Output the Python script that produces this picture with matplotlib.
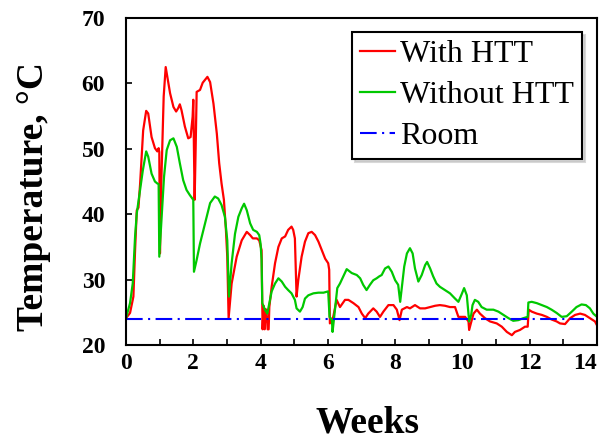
import matplotlib
matplotlib.use("Agg")
from matplotlib import pyplot as plt
from matplotlib.ticker import MultipleLocator

# temperature log, weeks vs deg C
sati_sa = [0, 0.12, 0.22, 0.27, 0.32, 0.37, 0.42, 0.51, 0.60, 0.66, 0.76, 0.86, 0.93, 0.97, 0.99,
           1.01, 1.05, 1.12, 1.18, 1.26, 1.31, 1.41, 1.49, 1.55, 1.60, 1.65, 1.75, 1.85, 1.92, 1.98,
           2.00, 2.02, 2.04, 2.07, 2.10, 2.20, 2.28, 2.42, 2.50, 2.60, 2.70, 2.77, 2.84, 2.91, 2.97,
           3.01, 3.05, 3.14, 3.29, 3.44, 3.59, 3.69, 3.77, 3.89, 3.96, 4.03, 4.06, 4.09, 4.12, 4.15,
           4.18, 4.21, 4.24, 4.26, 4.33, 4.43, 4.53, 4.63, 4.73, 4.82, 4.92, 4.97, 5.02, 5.07, 5.12,
           5.22, 5.32, 5.42, 5.52, 5.62, 5.72, 5.82, 5.92, 6.01, 6.04, 6.06, 6.16, 6.26, 6.36, 6.51,
           6.61, 6.76, 6.91, 7.01, 7.11, 7.20, 7.35, 7.45, 7.55, 7.65, 7.80, 7.95, 8.05, 8.13, 8.20,
           8.35, 8.44, 8.59, 8.74, 8.89, 9.04, 9.19, 9.33, 9.48, 9.63, 9.78, 9.88, 10.08, 10.18, 10.20,
           10.25, 10.33, 10.43, 10.52, 10.67, 10.82, 11.02, 11.17, 11.32, 11.47, 11.56, 11.71, 11.86, 11.94, 11.97,
           12.06, 12.21, 12.36, 12.51, 12.65, 12.80, 12.90, 13.05, 13.20, 13.35, 13.50, 13.64, 13.79, 13.94, 14.00]
temp_sa = [24.1, 24.9, 27.4, 34.5, 40.6, 41.0, 44.7, 52.8, 55.8, 55.4, 51.8, 50.1, 49.6, 50.1, 49.5,
           34.0, 45.0, 58.0, 62.5, 60.0, 58.5, 56.4, 55.7, 56.2, 56.8, 55.9, 53.4, 51.6, 51.8, 54.9,
           57.5, 50.0, 42.2, 50.0, 58.7, 59.0, 60.1, 61.0, 60.2, 56.9, 52.3, 47.8, 44.7, 42.2, 37.6,
           33.5, 24.1, 29.4, 33.5, 36.0, 37.3, 36.8, 36.3, 36.3, 36.0, 34.5, 22.4, 26.0, 22.4, 25.5,
           24.8, 22.4, 22.4, 25.8, 28.9, 32.5, 35.0, 36.3, 36.6, 37.6, 38.1, 37.6, 36.3, 27.4, 29.9,
           33.5, 35.8, 37.1, 37.3, 36.8, 35.8, 34.5, 33.2, 32.5, 31.5, 23.3, 24.3, 26.9, 25.8, 26.9,
           26.9, 26.4, 25.8, 24.8, 24.1, 24.8, 25.6, 25.1, 24.3, 25.1, 26.1, 26.1, 25.4, 23.8, 25.4,
           25.8, 25.6, 26.1, 25.6, 25.6, 25.8, 26.0, 26.1, 26.0, 25.8, 25.8, 24.3, 24.3, 23.6, 22.3,
           23.3, 24.8, 25.4, 24.8, 24.1, 23.6, 23.3, 22.8, 22.0, 21.5, 22.0, 22.3, 22.8, 22.8, 25.4,
           25.1, 24.8, 24.6, 24.3, 23.9, 23.6, 23.3, 23.2, 24.1, 24.6, 24.8, 24.6, 24.1, 23.6, 23.0]

sati_bez = [0, 0.12, 0.20, 0.27, 0.32, 0.42, 0.50, 0.60, 0.66, 0.76, 0.86, 0.93, 0.97, 0.99, 1.06,
            1.13, 1.21, 1.31, 1.41, 1.51, 1.60, 1.70, 1.80, 1.90, 2.00, 2.02, 2.10, 2.20, 2.35, 2.50,
            2.64, 2.74, 2.84, 2.94, 3.01, 3.06, 3.14, 3.24, 3.34, 3.44, 3.51, 3.59, 3.69, 3.78, 3.89,
            3.96, 4.00, 4.03, 4.05, 4.13, 4.20, 4.26, 4.33, 4.43, 4.53, 4.63, 4.73, 4.82, 4.92, 5.02,
            5.07, 5.17, 5.25, 5.32, 5.42, 5.57, 5.72, 5.87, 6.01, 6.05, 6.12, 6.14, 6.22, 6.28, 6.36,
            6.46, 6.56, 6.71, 6.86, 6.96, 7.05, 7.15, 7.25, 7.35, 7.45, 7.53, 7.60, 7.70, 7.80, 7.90,
            8.00, 8.09, 8.15, 8.20, 8.27, 8.35, 8.44, 8.52, 8.59, 8.69, 8.79, 8.89, 8.95, 9.04, 9.13,
            9.23, 9.33, 9.48, 9.63, 9.78, 9.88, 9.98, 10.05, 10.13, 10.20, 10.26, 10.30, 10.37, 10.47, 10.57,
            10.72, 10.92, 11.07, 11.22, 11.37, 11.51, 11.66, 11.81, 11.94, 11.96, 12.06, 12.21, 12.36, 12.51, 12.65,
            12.80, 12.95, 13.10, 13.25, 13.39, 13.54, 13.67, 13.79, 13.89, 14.00]
temp_bez = [24.1, 26.4, 29.4, 36.6, 40.1, 43.7, 46.7, 49.6, 48.8, 46.2, 45.0, 44.7, 44.6, 33.5, 39.6,
            45.7, 49.8, 51.3, 51.6, 50.3, 47.8, 45.2, 43.7, 42.9, 42.2, 31.2, 33.0, 35.5, 38.6, 41.7,
            42.7, 42.4, 41.4, 39.6, 36.0, 27.4, 32.5, 37.0, 39.6, 40.9, 41.6, 40.6, 38.6, 37.6, 37.3,
            36.8, 35.5, 33.0, 26.4, 25.4, 24.8, 26.4, 28.2, 29.4, 30.2, 29.7, 28.9, 28.4, 27.9, 26.9,
            25.6, 25.1, 25.8, 27.1, 27.6, 27.9, 28.0, 28.0, 28.2, 24.3, 23.8, 22.0, 25.8, 28.7, 29.4,
            30.5, 31.6, 31.0, 30.7, 30.2, 29.2, 28.4, 29.2, 29.9, 30.2, 30.5, 30.7, 31.7, 32.0, 31.2,
            29.9, 29.2, 26.6, 28.9, 32.0, 34.0, 34.8, 34.0, 31.7, 29.7, 30.7, 32.2, 32.7, 31.7, 30.5,
            29.4, 28.9, 28.4, 27.9, 27.1, 26.6, 27.8, 28.7, 27.6, 23.6, 24.6, 26.1, 26.9, 26.6, 25.8,
            25.4, 25.4, 25.1, 24.6, 24.1, 23.7, 23.8, 24.1, 24.3, 26.5, 26.6, 26.4, 26.1, 25.8, 25.4,
            24.9, 24.3, 24.4, 25.1, 25.8, 26.2, 26.1, 25.6, 24.8, 24.3]

sati_soba = [0, 13.6]
temp_soba = [24, 24]

nedelje = [0, 2, 4, 6, 8, 10, 12, 14]
temperature = [20, 30, 40, 50, 60, 70]

plt.rcParams["font.family"] = "Liberation Serif"
plt.rcParams["font.weight"] = "bold"

figura = plt.figure(figsize=(6.02, 4.41), dpi=100)
ax = figura.add_axes([0.2093, 0.2177, 0.7824, 0.7415])

ax.plot(sati_sa, temp_sa, color="red", lw=1.6, label="With HTT")
ax.plot(sati_bez, temp_bez, color="#00c800", lw=1.6, label="Without HTT")
ax.plot(sati_soba, temp_soba, color="blue", lw=1.5, dashes=(8, 2.6, 1, 2.6), label="Room")

ax.set_xlim(0, 14)
ax.set_ylim(20, 70)
ax.set_xticks(nedelje)
ax.set_yticks(temperature)
ax.xaxis.set_minor_locator(MultipleLocator(1))

ax.tick_params(axis="both", which="both", direction="in", length=4, width=1.2,
               top=False, right=False)
ax.tick_params(axis="x", which="major", pad=6, labelsize=17)
ax.tick_params(axis="y", which="major", pad=15, labelsize=17)
# zadnja oznaka da ne izadje iz slike
ax.get_xticklabels()[-1].set_horizontalalignment("right")

for s in ax.spines.values():
    s.set_linewidth(1.5)

ax.set_xlabel("Weeks", fontsize=27, fontweight="bold")
ax.xaxis.set_label_coords(0.513, -0.185)
ax.set_ylabel("Temperature, °C", fontsize=27, fontweight="bold")
ax.yaxis.set_label_coords(-0.16, 0.453)

leg = ax.legend(loc="upper right", bbox_to_anchor=(0.968, 0.957), borderaxespad=0,
                prop={"size": 23, "weight": "normal"}, frameon=True, fancybox=False,
                shadow={"color": "0.75", "alpha": 0.6},
                handlelength=1.1, handletextpad=0.15, labelspacing=0.36, borderpad=0.25)
leg.get_frame().set_edgecolor("black")
leg.get_frame().set_linewidth(1.5)

plt.savefig("out.png", dpi=100)
